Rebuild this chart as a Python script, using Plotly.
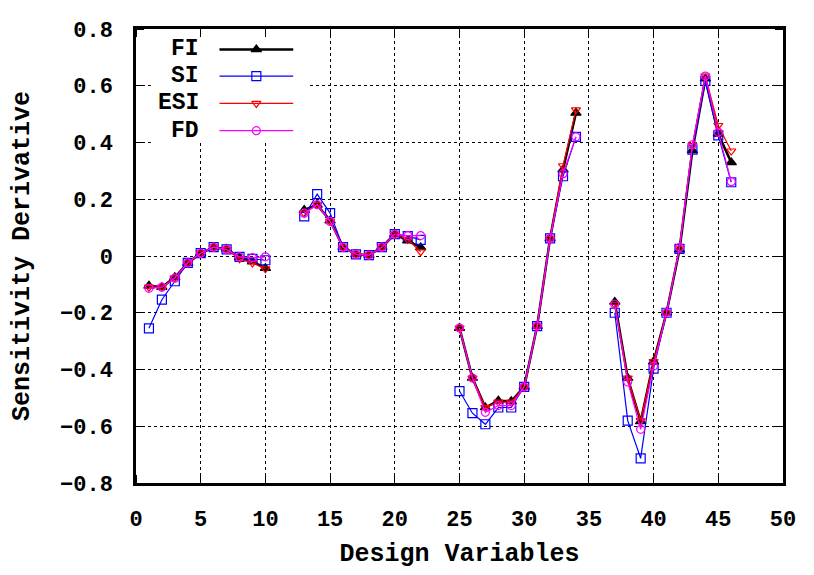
import plotly.graph_objects as go

# ---- data ----
seg_x = [list(range(1, 11)), list(range(13, 23)), list(range(25, 35)), list(range(37, 47))]

fi = [
    [-0.105, -0.11, -0.075, -0.025, 0.01, 0.03, 0.025, -0.005, -0.02, -0.043],
    [0.162, 0.18, 0.125, 0.031, 0.006, 0.003, 0.031, 0.077, 0.054, 0.03],
    [-0.254, -0.43, -0.534, -0.51, -0.512, -0.461, -0.247, 0.062, 0.304, 0.504],
    [-0.162, -0.43, -0.583, -0.372, -0.2, 0.022, 0.372, 0.625, 0.43, 0.33],
]
si = [
    [-0.255, -0.154, -0.089, -0.024, 0.01, 0.031, 0.023, -0.003, -0.01, -0.015],
    [0.14, 0.218, 0.151, 0.031, 0.006, 0.003, 0.031, 0.077, 0.07, 0.057],
    [-0.476, -0.554, -0.593, -0.534, -0.534, -0.461, -0.247, 0.062, 0.281, 0.42],
    [-0.2, -0.58, -0.713, -0.397, -0.2, 0.025, 0.375, 0.617, 0.425, 0.26],
]
esi = [
    [-0.11, -0.11, -0.077, -0.024, 0.01, 0.031, 0.023, -0.01, -0.025, -0.045],
    [0.151, 0.181, 0.122, 0.031, 0.006, 0.003, 0.031, 0.077, 0.058, 0.015],
    [-0.254, -0.43, -0.534, -0.515, -0.515, -0.461, -0.247, 0.062, 0.318, 0.515],
    [-0.171, -0.43, -0.58, -0.372, -0.2, 0.028, 0.39, 0.634, 0.46, 0.37],
]
fd = [
    [-0.114, -0.11, -0.078, -0.024, 0.01, 0.031, 0.023, -0.003, -0.006, -0.003],
    [0.151, 0.181, 0.122, 0.031, 0.006, 0.003, 0.031, 0.077, 0.072, 0.072],
    [-0.254, -0.43, -0.551, -0.527, -0.527, -0.461, -0.247, 0.062, 0.29, 0.42],
    [-0.17, -0.444, -0.611, -0.388, -0.2, 0.03, 0.392, 0.634, 0.436, 0.262],
]

series_names = ["FI", "SI", "ESI", "FD"]
x_ticks = [0, 5, 10, 15, 20, 25, 30, 35, 40, 45, 50]
y_ticks = [-0.8, -0.6, -0.4, -0.2, 0, 0.2, 0.4, 0.6, 0.8]
y_tick_text = ["\u22120.8", "\u22120.6", "\u22120.4", "\u22120.2", "0", "0.2", "0.4", "0.6", "0.8"]

X_RANGE = [0, 50]
Y_RANGE = [-0.8, 0.8]


def join(segs_x, segs_y):
    xs, ys = [], []
    for sx, sy in zip(segs_x, segs_y):
        xs += list(sx) + [None]
        ys += list(sy) + [None]
    return xs, ys


def to_x(p):
    return X_RANGE[0] + (X_RANGE[1] - X_RANGE[0]) * p


def to_y(p):
    return Y_RANGE[0] + (Y_RANGE[1] - Y_RANGE[0]) * p


styles = [
    dict(color="black", width=2.5, symbol="triangle-up", size=9),
    dict(color="#0000ff", width=1.2, symbol="square-open", size=9),
    dict(color="#ff0000", width=1.2, symbol="triangle-down-open", size=8),
    dict(color="#ff00ff", width=1.2, symbol="circle-open", size=8),
]

FONT = "Liberation Mono"
fig = go.Figure()

# opaque white key box (hides the grid behind the key, like gnuplot)
bx0, bx1, by0, by1 = to_x(0.023), to_x(0.267), to_y(0.749), to_y(0.996)
fig.add_trace(go.Scatter(x=[bx0, bx1, bx1, bx0, bx0], y=[by0, by0, by1, by1, by0],
                         mode="none", fill="toself", fillcolor="white",
                         showlegend=False, hoverinfo="skip"))

for name, data, st in zip(series_names, [fi, si, esi, fd], styles):
    xs, ys = join(seg_x, data)
    fig.add_trace(go.Scatter(
        x=xs, y=ys, mode="lines+markers", name=name, showlegend=False,
        line=dict(color=st["color"], width=st["width"]),
        marker=dict(symbol=st["symbol"], size=st["size"], color=st["color"],
                    line=dict(color=st["color"], width=1.2)),
        connectgaps=False,
    ))

# gnuplot-style key (text left, sample right)
key_rows = [0.955, 0.896, 0.836, 0.776]
key_x = [0.129, 0.186, 0.243]
for name, st, ry in zip(series_names, styles, key_rows):
    fig.add_trace(go.Scatter(
        x=[to_x(p) for p in key_x], y=[to_y(ry)] * 3, mode="lines+markers",
        showlegend=False, hoverinfo="skip",
        line=dict(color=st["color"], width=st["width"]),
        marker=dict(symbol=st["symbol"], size=st["size"], color=st["color"],
                    opacity=[0, 1, 0], line=dict(color=st["color"], width=1.2)),
    ))
    fig.add_annotation(x=0.101, y=ry, xref="paper", yref="paper", text=name,
                       showarrow=False, xanchor="right", yanchor="middle",
                       font=dict(family=FONT, size=23, color="black", weight="bold"))

axis_common = dict(
    showline=True, linecolor="black", linewidth=2.5, mirror="ticks",
    # invisible outside major ticks push the labels away from the frame;
    # the visible inward ticks are drawn as minor ticks at the same values
    ticks="outside", tickcolor="rgba(255,255,255,0)", tickwidth=1,
    showgrid=True, gridcolor="black", griddash="dot", gridwidth=1,
    zeroline=False,
    tickfont=dict(family=FONT, size=22, color="black", weight="bold"),
)

fig.update_layout(
    width=814, height=575,
    margin=dict(l=136, r=23, t=20, b=84),
    paper_bgcolor="white", plot_bgcolor="white",
    xaxis=dict(range=X_RANGE, tickvals=x_ticks, ticktext=[str(v) for v in x_ticks],
               ticklen=14,
               minor=dict(tickvals=x_ticks, ticks="inside", ticklen=8, tickwidth=1.2,
                          tickcolor="black", showgrid=False),
               title=dict(text="Design Variables", standoff=12,
                          font=dict(family=FONT, size=25, color="black", weight="bold")),
               **axis_common),
    yaxis=dict(range=Y_RANGE, tickvals=y_ticks, ticktext=y_tick_text,
               ticklen=16,
               minor=dict(tickvals=y_ticks, ticks="inside", ticklen=8, tickwidth=1.2,
                          tickcolor="black", showgrid=False),
               title=dict(text="Sensitivity Derivative", standoff=24,
                          font=dict(family=FONT, size=25, color="black", weight="bold")),
               **axis_common),
    showlegend=False,
)

fig.write_html("out.html")
